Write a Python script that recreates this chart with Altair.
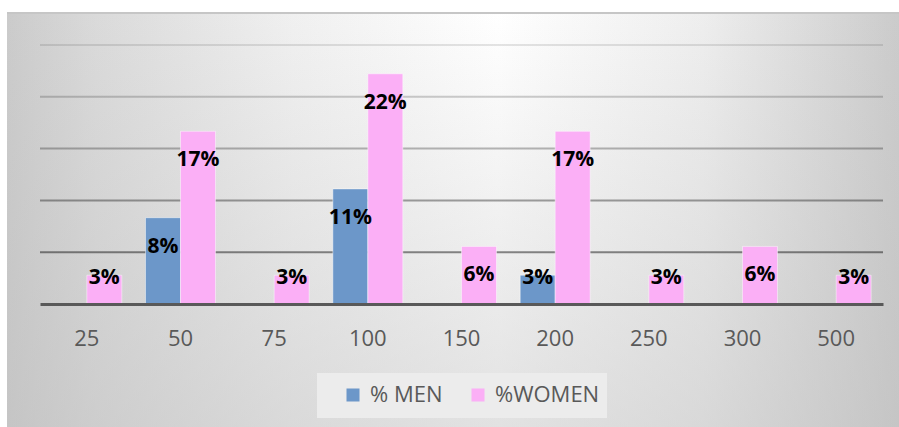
import altair as alt
import pandas as pd

# ---- data ----
categories = ["25", "50", "75", "100", "150", "200", "250", "300", "500"]
men = [0, 8.33, 0, 11.11, 0, 2.78, 0, 0, 0]
women = [2.78, 16.67, 2.78, 22.22, 5.56, 16.67, 2.78, 5.56, 2.78]
series = ["% MEN", "%WOMEN"]
grid_values = [5, 10, 15, 20, 25]

rows = []
for c, m, w in zip(categories, men, women):
    rows.append({"cat": c, "series": series[0], "value": m})
    rows.append({"cat": c, "series": series[1], "value": w})
df = pd.DataFrame(rows)
grid_df = pd.DataFrame({"g": grid_values})
one = pd.DataFrame({"a": [0]})

W, H = 843, 259
FONT = "Open Sans"
GRAY = "#595959"

x_scale = alt.Scale(domain=categories, paddingInner=0.253, paddingOuter=0.1265)
xo_scale = alt.Scale(domain=series, paddingInner=0, paddingOuter=0)
y_scale = alt.Scale(domain=[0, 25], nice=False, zero=True)
color_scale = alt.Scale(domain=series, range=["#6c97c9", "#fbaff6"])

x_axis = alt.Axis(
    title=None, labelFont=FONT, labelFontSize=22, labelColor=GRAY,
    labelAngle=0, ticks=False, domainColor=GRAY, domainWidth=3,
    labelPadding=34, labelBaseline="middle", grid=False, zindex=2,
)

# ---- chart frame background (decoration) ----
bg_h = alt.Chart(one).mark_rect(
    fill={
        "gradient": "linear", "x1": 0, "y1": 0, "x2": 1, "y2": 0,
        "stops": [
            {"offset": 0, "color": "#cbcbcb"},
            {"offset": 0.1, "color": "#dadada"},
            {"offset": 0.32, "color": "#f0f0f0"},
            {"offset": 0.55, "color": "#ffffff"},
            {"offset": 0.78, "color": "#eeeeee"},
            {"offset": 0.92, "color": "#d8d8d8"},
            {"offset": 1, "color": "#cbcbcb"},
        ],
    }
).encode(x=alt.value(-33), x2=alt.value(859), y=alt.value(-33), y2=alt.value(382))

bg_v = alt.Chart(one).mark_rect(
    fill={
        "gradient": "linear", "x1": 0, "y1": 0, "x2": 0, "y2": 1,
        "stops": [
            {"offset": 0, "color": "rgba(190,190,190,0)"},
            {"offset": 1, "color": "rgba(190,190,190,0.45)"},
        ],
    }
).encode(x=alt.value(-33), x2=alt.value(859), y=alt.value(-33), y2=alt.value(382))

top_border = alt.Chart(one).mark_rule(stroke="#c6c6c6", strokeWidth=2).encode(
    x=alt.value(-33), x2=alt.value(859), y=alt.value(-32)
)

legend_box = alt.Chart(one).mark_rect(fill="#ececec").encode(
    x=alt.value(277), x2=alt.value(567), y=alt.value(328), y2=alt.value(373)
)

# ---- gridlines ----
grid = alt.Chart(grid_df).mark_rule(stroke="#000000", strokeWidth=2).encode(
    y=alt.Y("g:Q", scale=y_scale, axis=None),
    strokeOpacity=alt.StrokeOpacity(
        "g:Q", scale=alt.Scale(domain=[5, 25], range=[0.45, 0.1]), legend=None
    ),
)

# ---- bars ----
bars = alt.Chart(df).transform_filter("datum.value > 0").mark_bar(
    stroke="#ffffff", strokeWidth=1, strokeOpacity=0.45
).encode(
    x=alt.X("cat:N", scale=x_scale, sort=categories, axis=x_axis),
    xOffset=alt.XOffset("series:N", scale=xo_scale),
    y=alt.Y("value:Q", scale=y_scale, axis=None),
    color=alt.Color(
        "series:N", scale=color_scale,
        legend=alt.Legend(
            title=None, orient="none", legendX=302, legendY=339,
            direction="horizontal", symbolType="square", symbolSize=169,
            symbolStrokeWidth=0, symbolOpacity=1, labelFont=FONT,
            labelFontSize=22, labelColor=GRAY, labelOffset=6,
            columnPadding=24, padding=0, zindex=2,
        ),
    ),
)

labels = alt.Chart(df).transform_filter("datum.value > 0").transform_calculate(
    label="format(datum.value, '.0f') + '%'",
    lab_y="max(datum.value - 2.8, 2.5)",
).mark_text(
    font=FONT, fontWeight="bold", fontSize=21, color="#000000", baseline="middle"
).encode(
    x=alt.X("cat:N", scale=x_scale, sort=categories, axis=x_axis),
    xOffset=alt.XOffset("series:N", scale=xo_scale),
    y=alt.Y("lab_y:Q", scale=y_scale, axis=None),
    text="label:N",
)

chart = alt.layer(bg_h, bg_v, top_border, legend_box, grid, bars, labels).properties(
    width=W, height=H,
    autosize=alt.AutoSizeParams(type="none"),
    padding={"left": 40, "top": 45, "right": 16, "bottom": 123},
    background="#ffffff",
).configure_view(stroke=None)

chart.save("out.html", embed_options={"renderer": "svg", "actions": False})
